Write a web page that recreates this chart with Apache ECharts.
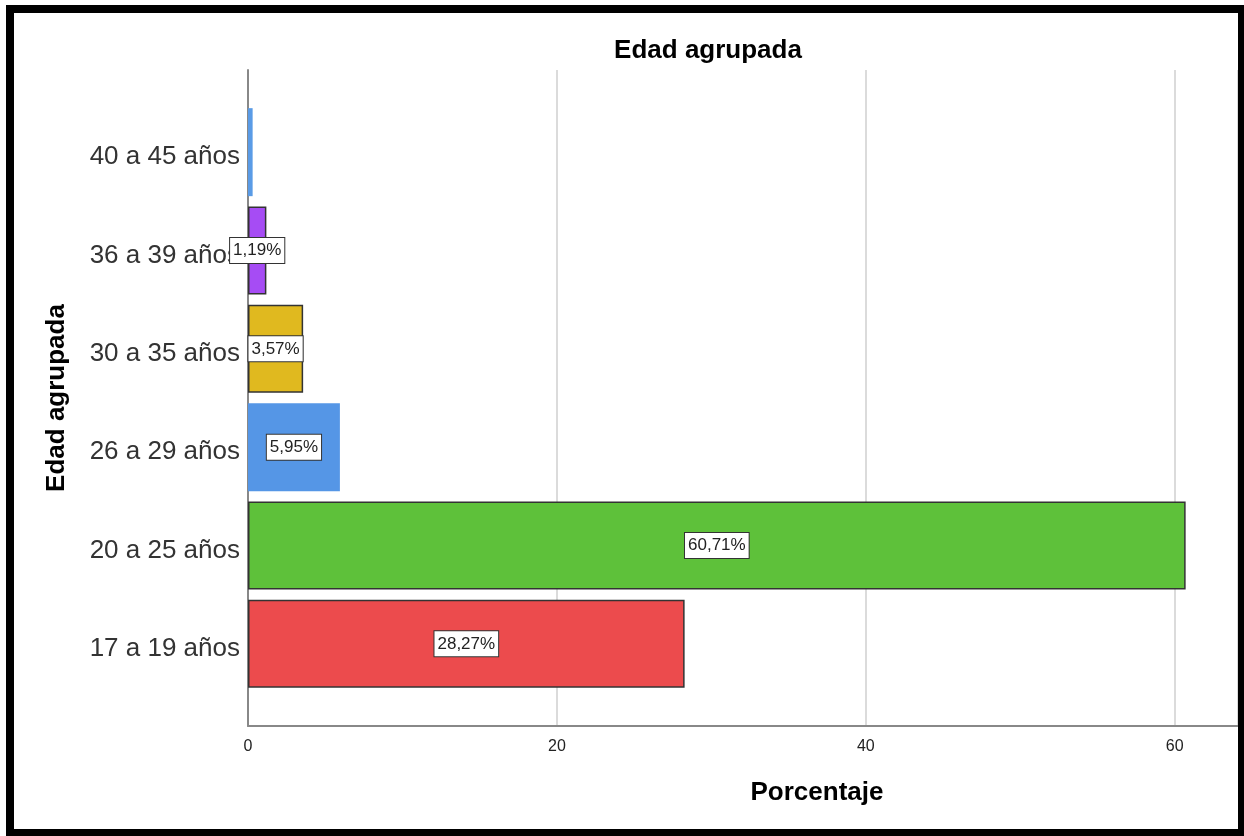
<!DOCTYPE html>
<html>
<head>
<meta charset="utf-8">
<script src="https://cdn.jsdelivr.net/npm/echarts@6/dist/echarts.min.js"></script>
<style>
html,body{margin:0;padding:0;background:#fff;}
#chart{width:1244px;height:836px;}
</style>
</head>
<body>
<div id="chart"></div>
<script>
// Data
const categories = ['17 a 19 años', '20 a 25 años', '26 a 29 años', '30 a 35 años', '36 a 39 años', '40 a 45 años'];
const percentages = [28.27, 60.71, 5.95, 3.57, 1.19, 0.30];
const showLabel = [true, true, true, true, true, false];
const xTicks = [0, 20, 40, 60];
const titleText = 'Edad agrupada';
const yAxisTitle = 'Edad agrupada';
const xAxisTitle = 'Porcentaje';

// Styles
const barColors = ['#ec4b4d', '#5ec13a', '#5596e6', '#e0b91f', '#a64cf4', '#5a9be6'];
const barBorders = [true, true, false, true, true, false];
const FONT = '"Liberation Sans", Arial, sans-serif';

const chart = echarts.init(document.getElementById('chart'), null, {renderer: 'canvas'});

const seriesData = percentages.map((v, i) => ({
  value: v,
  itemStyle: {
    color: barColors[i],
    borderColor: barBorders[i] ? '#333333' : barColors[i],
    borderWidth: barBorders[i] ? 1.5 : 0
  },
  label: {show: showLabel[i]}
}));

const option = {
  backgroundColor: '#ffffff',
  animation: false,
  grid: [
    {left: 248, right: 6, top: 70, bottom: 110},
    {left: 248, right: 6, top: 103, bottom: 143}
  ],
  xAxis: [
    {
      gridIndex: 0, type: 'value', min: 0, max: 64.1, interval: 20,
      axisLine: {show: true, lineStyle: {color: '#888888', width: 2}},
      axisTick: {show: false},
      axisLabel: {
        show: true, fontSize: 16, color: '#222222', fontFamily: FONT, margin: 13,
        showMaxLabel: false,
        formatter: v => (xTicks.indexOf(v) >= 0 ? String(v) : '')
      },
      splitLine: {show: true, lineStyle: {color: '#cfcfcf', width: 1.5}}
    },
    {
      gridIndex: 1, type: 'value', min: 0, max: 64.1, show: false
    }
  ],
  yAxis: [
    {
      gridIndex: 0, type: 'value', min: 0, max: 1,
      axisLine: {show: true, lineStyle: {color: '#888888', width: 2}},
      axisTick: {show: false}, axisLabel: {show: false}, splitLine: {show: false}
    },
    {
      gridIndex: 1, type: 'category', data: categories,
      axisLine: {show: false}, axisTick: {show: false}, splitLine: {show: false},
      axisLabel: {
        margin: 8,
        formatter: v => '{c|' + v + '}',
        rich: {c: {fontSize: 26, color: '#333333', fontFamily: FONT, padding: [10, 0, 0, 0]}}
      }
    }
  ],
  series: [
    {
      type: 'bar', xAxisIndex: 1, yAxisIndex: 1,
      barWidth: 88,
      data: seriesData,
      z: 5,
      label: {
        position: 'inside',
        formatter: p => p.value.toFixed(2).replace('.', ',') + '%',
        backgroundColor: '#ffffff',
        borderColor: '#333333',
        borderWidth: 1,
        padding: [4, 3, 4, 3],
        fontSize: 17,
        color: '#222222',
        fontFamily: FONT
      }
    }
  ],
  graphic: [
    {
      type: 'text', x: 708, y: 51, z: 10,
      style: {text: titleText, font: 'bold 26px ' + FONT, fill: '#000', textAlign: 'center', textVerticalAlign: 'middle'}
    },
    {
      type: 'text', x: 817, y: 793, z: 10,
      style: {text: xAxisTitle, font: 'bold 26px ' + FONT, fill: '#000', textAlign: 'center', textVerticalAlign: 'middle'}
    },
    {
      type: 'text', x: 57, y: 398, rotation: Math.PI / 2, z: 10,
      style: {text: yAxisTitle, font: 'bold 26px ' + FONT, fill: '#000', textAlign: 'center', textVerticalAlign: 'middle'}
    },
    {
      type: 'rect', z: 20,
      shape: {x: 10, y: 9, width: 1232, height: 824},
      style: {fill: 'none', stroke: '#000000', lineWidth: 8}
    }
  ]
};

chart.setOption(option);
</script>
</body>
</html>
